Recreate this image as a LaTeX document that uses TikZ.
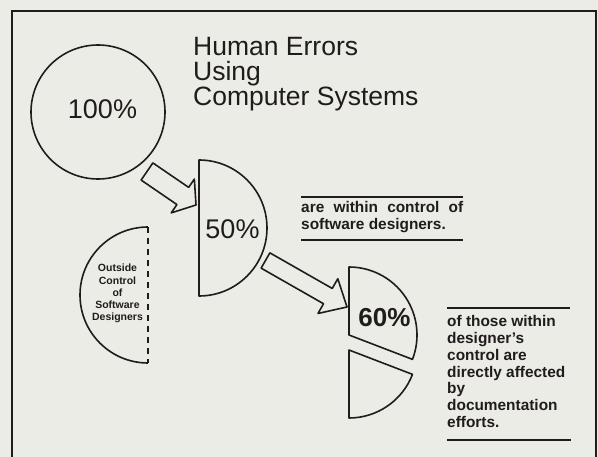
\documentclass[tikz,border=0pt]{standalone}
\usepackage{fontspec}
\setmainfont{Liberation Sans}
\usetikzlibrary{calc}
\definecolor{paper}{RGB}{236,236,231}
\definecolor{ink}{RGB}{32,28,28}
% block arrow: tail, tip, shaft half width, head half width, head length, neck name
\newcommand\myblockarrow[6]{%
  \coordinate (#6) at ($(#2)!#5!(#1)$);
  \draw[shapeline] ($(#1)!#3!90:(#2)$) -- ($(#6)!#3!90:(#2)$) -- ($(#6)!#4!90:(#2)$) -- (#2)
    -- ($(#6)!#4!-90:(#2)$) -- ($(#6)!#3!-90:(#2)$) -- ($(#1)!#3!-90:(#2)$) -- cycle;}
\begin{document}
\begin{tikzpicture}[x=1pt,y=-1pt,
  shapeline/.style={draw=ink, line width=1.6pt, line join=round},
  frameline/.style={draw=ink, line width=1.5pt},
  rule/.style={draw=ink, line width=2.6pt},
  pct/.style={text=ink, inner sep=0pt, font=\fontsize{27}{30}\selectfont},
  titletext/.style={text=ink, inner sep=0pt, anchor=base west, font=\fontsize{26.5}{30}\selectfont},
  smalltext/.style={text=ink, inner sep=0pt, anchor=base, font=\bfseries\fontsize{10.5}{12}\selectfont},
  blocktext/.style={text=ink, inner sep=0pt, anchor=base west, font=\bfseries\fontsize{15.4}{17}\selectfont}]
\fill[paper] (0,0) rectangle (598,457);
\useasboundingbox (0,0) rectangle (598,457);
\clip (0,0) rectangle (598,457);
% frame
\draw[frameline] (12,470) -- (12,11) -- (596,11) -- (596,470);
% title
\node[titletext] (title1) at (193,55.5) {Human Errors};
\node[titletext] (title2) at (193,80.5) {Using};
\node[titletext] (title3) at (193,105.8) {Computer Systems};
% 100% circle
\node[circle, draw=ink, line width=1.6pt, minimum size=134pt, inner sep=0pt] (c100) at (98,112) {};
\node[pct, anchor=base] (t100) at (102.5,118.5) {100\%};
% 50% half circle
\coordinate (h50) at (199,228);
\draw[shapeline] (199,160) -- (199,296) arc[start angle=90, end angle=-90, radius=68] -- cycle;
\node[pct, anchor=base] (t50) at (232.5,239) {50\%};
% outside control half circle
\coordinate (hout) at (148,295);
\draw[shapeline] (148,227) arc[start angle=270, end angle=90, radius=68];
\draw[shapeline, dash pattern=on 6pt off 5pt] (148,227) -- (148,363);
\foreach \t [count=\i] in {Outside,Control,of,Software,Designers}
  \node[smalltext] (out\i) at (117.5,{272+12.2*(\i-1)}) {\t};
% 60% pie pieces
\coordinate (p60) at (349,335);
\coordinate (p40) at (349,350);
\draw[shapeline] (p60) -- (349,267) arc[start angle=-90, end angle=21, radius=68] -- cycle;
\draw[shapeline] (p40) -- ++(21:68) arc[start angle=21, end angle=90, radius=68] -- cycle;
\node[pct, anchor=base, font=\bfseries\fontsize{26}{30}\selectfont] (t60) at (384.5,327) {60\%};
% arrows
\coordinate (a1tail) at (147,171.5);
\coordinate (a1tip) at (196,205);
\myblockarrow{a1tail}{a1tip}{10.4pt}{20.5pt}{16pt}{a1neck}
\coordinate (a2tail) at (265.5,260.5);
\coordinate (a2tip) at (347,307);
\myblockarrow{a2tail}{a2tip}{8.8pt}{20pt}{22pt}{a2neck}
% text block 1
\draw[rule] (301,197) -- (463,197);
\node[blocktext] (b1l1) at (301,213) {\makebox[162pt][s]{are within control of}};
\node[blocktext] (b1l2) at (301,229.5) {software designers.};
\draw[rule] (301,240) -- (463,240);
% text block 2
\draw[rule] (447,308) -- (570,308);
\foreach \t [count=\i] in {of those within,designer's,control are,directly affected,by,documentation,efforts.}
  \node[blocktext] (b2l\i) at (447,{327+16.67*(\i-1)}) {\t};
\draw[rule] (447,440) -- (571,440);
\end{tikzpicture}
\end{document}
